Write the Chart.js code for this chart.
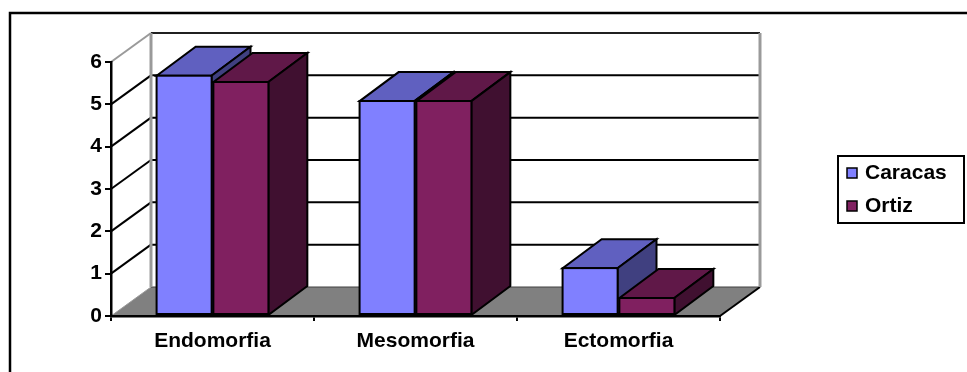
<!DOCTYPE html>
<html>
<head>
<meta charset="utf-8">
<script src="https://cdn.jsdelivr.net/npm/chart.js@4/dist/chart.umd.min.js"></script>
<style>
  html, body { margin: 0; padding: 0; background: #fff; }
  canvas { display: block; }
</style>
</head>
<body>
<canvas id="c" width="967" height="372"></canvas>
<script>
// ---- data ----
const categories = ['Endomorfia', 'Mesomorfia', 'Ectomorfia'];
const seriesNames = ['Caracas', 'Ortiz'];
const caracas = [5.7, 5.1, 1.15];
const ortiz = [5.55, 5.1, 0.45];
const yMax = 6;
const yStep = 1;

// ---- style ----
const FONT = { family: "'Liberation Sans', Arial, sans-serif", weight: 'bold', size: 21 };
const frontColors = ['#8080FF', '#802060'];
const topColors = ['#6060C0', '#601848'];
const sideColors = ['#404080', '#401030'];
const WALL_DX = 40, WALL_DY = -29;
const BAR_DX = 39, BAR_DY = -29;

function poly(ctx, pts, fill, stroke, lw) {
  ctx.beginPath();
  ctx.moveTo(pts[0][0], pts[0][1]);
  for (let i = 1; i < pts.length; i++) ctx.lineTo(pts[i][0], pts[i][1]);
  ctx.closePath();
  if (fill) { ctx.fillStyle = fill; ctx.fill(); }
  if (stroke) { ctx.strokeStyle = stroke; ctx.lineWidth = lw || 2; ctx.stroke(); }
}
function line(ctx, x1, y1, x2, y2, color, lw) {
  ctx.beginPath();
  ctx.moveTo(x1, y1); ctx.lineTo(x2, y2);
  ctx.strokeStyle = color; ctx.lineWidth = lw; ctx.stroke();
}

const wallsPlugin = {
  id: 'walls',
  beforeDraw(chart) {
    const ctx = chart.ctx;
    const a = chart.chartArea;
    const y = chart.scales.y;
    ctx.save();
    ctx.fillStyle = '#fff';
    ctx.fillRect(0, 0, chart.width, chart.height);
    ctx.lineJoin = 'miter';
    const L = a.left, R = a.right, T = y.getPixelForValue(yMax), B = y.getPixelForValue(0);
    // floor
    poly(ctx, [[L, B], [R, B], [R + WALL_DX, B + WALL_DY], [L + WALL_DX, B + WALL_DY]], '#808080', null);
    line(ctx, L + WALL_DX, B + WALL_DY, R + WALL_DX, B + WALL_DY, '#404040', 1);
    line(ctx, R, B, R + WALL_DX, B + WALL_DY, '#000', 2);
    line(ctx, L, B, L + WALL_DX, B + WALL_DY, '#9a9a9a', 1);
    // back wall gridlines & side wall gridlines
    for (let v = yStep; v <= yMax; v += yStep) {
      const py = y.getPixelForValue(v);
      const top = v === yMax;
      line(ctx, L, py, L + WALL_DX, py + WALL_DY, top ? '#9a9a9a' : '#000', 2);
      line(ctx, L + WALL_DX, py + WALL_DY, R + WALL_DX, py + WALL_DY, top ? '#202020' : '#000', 2);
    }
    // wall edges
    line(ctx, L + WALL_DX, T + WALL_DY, L + WALL_DX, B + WALL_DY, '#9a9a9a', 3);
    line(ctx, R + WALL_DX, T + WALL_DY, R + WALL_DX, B + WALL_DY, '#9a9a9a', 3);
    ctx.restore();
  },
  beforeDatasetsDraw(chart) {
    const ctx = chart.ctx;
    ctx.save();
    ctx.lineJoin = 'miter';
    const n = chart.data.labels.length;
    for (let i = 0; i < n; i++) {
      chart.data.datasets.forEach((ds, d) => {
        const el = chart.getDatasetMeta(d).data[i];
        const p = el.getProps(['x', 'y', 'base', 'width'], true);
        const l = p.x - p.width / 2 + 1, r = p.x + p.width / 2 - 1, t = p.y + 1, b = p.base;
        poly(ctx, [[l, t], [r, t], [r + BAR_DX, t + BAR_DY], [l + BAR_DX, t + BAR_DY]], topColors[d], '#000', 2);
        poly(ctx, [[r, t], [r + BAR_DX, t + BAR_DY], [r + BAR_DX, b + BAR_DY], [r, b]], sideColors[d], '#000', 2);
        poly(ctx, [[l, t], [r, t], [r, b], [l, b]], frontColors[d], '#000', 2);
      });
    }
    ctx.restore();
  },
  afterDraw(chart) {
    const ctx = chart.ctx;
    ctx.save();
    // outer frame
    ctx.strokeStyle = '#000';
    ctx.lineWidth = 2.5;
    ctx.strokeRect(10, 13, 1000, 400);
    // legend
    const lx = 838, ly = 156, lw = 126, lh = 67;
    ctx.fillStyle = '#fff';
    ctx.fillRect(lx, ly, lw, lh);
    ctx.lineWidth = 2;
    ctx.strokeRect(lx, ly, lw, lh);
    ctx.font = `bold ${FONT.size}px ${FONT.family}`;
    ctx.textBaseline = 'middle';
    chart.data.datasets.forEach((ds, d) => {
      const cy = ly + 17 + d * 33;
      ctx.fillStyle = ds.backgroundColor;
      ctx.fillRect(847, cy - 5, 10, 10);
      ctx.lineWidth = 1.5;
      ctx.strokeStyle = '#000';
      ctx.strokeRect(847, cy - 5, 10, 10);
      ctx.fillStyle = '#000';
      ctx.fillText(ds.label, 865, cy);
    });
    ctx.restore();
  }
};

new Chart(document.getElementById('c'), {
  type: 'bar',
  data: {
    labels: categories,
    datasets: [
      { label: seriesNames[0], data: caracas, backgroundColor: frontColors[0], borderColor: '#000', borderWidth: 2, borderSkipped: false, categoryPercentage: 0.56, barPercentage: 1 },
      { label: seriesNames[1], data: ortiz, backgroundColor: frontColors[1], borderColor: '#000', borderWidth: 2, borderSkipped: false, categoryPercentage: 0.56, barPercentage: 1 }
    ]
  },
  options: {
    responsive: false,
    animation: false,
    devicePixelRatio: 1,
    layout: { padding: { left: 0, right: 247, top: 62, bottom: 0 } },
    plugins: { legend: { display: false }, tooltip: { enabled: false } },
    scales: {
      x: {
        grid: { display: true, drawOnChartArea: false, offset: true, tickLength: 5, color: '#000', lineWidth: 2 },
        border: { display: true, color: '#000', width: 2.5 },
        ticks: { color: '#000', font: FONT, padding: 8, maxRotation: 0 },
        afterFit(s) { s.height = 56; }
      },
      y: {
        min: 0, max: yMax,
        grid: { display: true, drawOnChartArea: false, tickLength: 6, color: '#000', lineWidth: 2 },
        border: { display: true, color: '#000', width: 2.5 },
        ticks: { stepSize: yStep, color: '#000', font: FONT, padding: 3 },
        afterFit(s) { s.width = 111; }
      }
    }
  },
  plugins: [wallsPlugin]
});
</script>
</body>
</html>
